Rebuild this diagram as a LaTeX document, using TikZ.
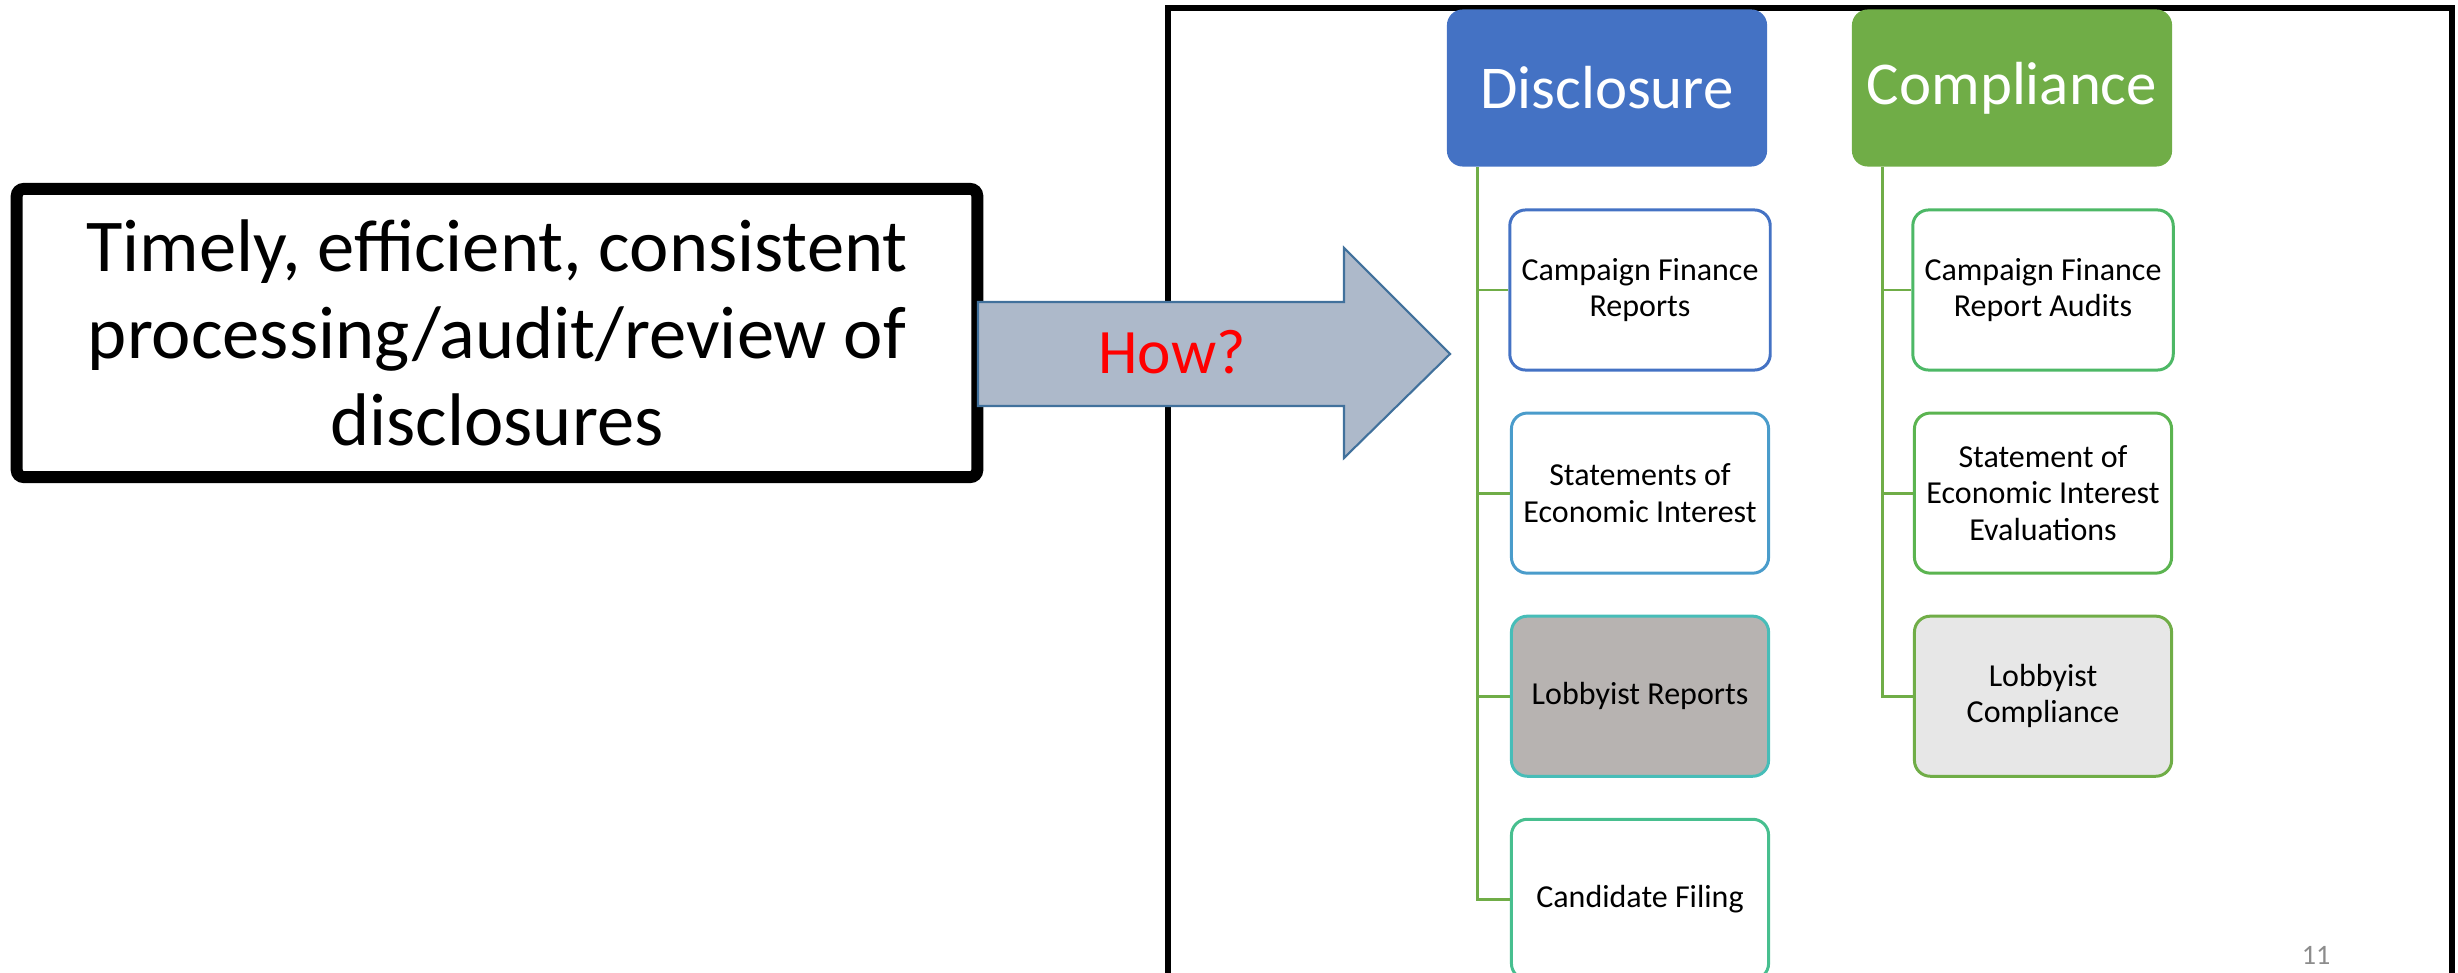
\documentclass[tikz,border=0pt]{standalone}
\usepackage{fontspec}
\setmainfont{Carlito}
\usetikzlibrary{positioning,calc}
\definecolor{discblue}{HTML}{4472C4}
\definecolor{compgreen}{HTML}{70AD47}
\definecolor{arrowfill}{HTML}{ADB9CA}
\definecolor{arrowline}{HTML}{41719C}
\definecolor{dA}{HTML}{4472C4}
\definecolor{dB}{HTML}{4A9CCB}
\definecolor{dC}{HTML}{47BDB8}
\definecolor{dD}{HTML}{47BF8F}
\definecolor{cA}{HTML}{4DB866}
\definecolor{cB}{HTML}{5BB450}
\definecolor{cC}{HTML}{70AD47}
\definecolor{greyfill}{HTML}{B7B3B1}
\definecolor{lightfill}{HTML}{E7E7E7}
\tikzset{
    goal/.style =   {rectangle,
                    rounded corners=2pt,
                    fill=white,
                    draw=black,
                    text=black,
                    line width=3.4pt,
                    align=center,
                    minimum width=9.6cm,
                    minimum height=2.88cm,
                    font=\fontsize{21.2}{24.8}\selectfont},
    head/.style =   {rectangle,
                    rounded corners=4.5pt,
                    draw=none,
                    text=white,
                    minimum width=3.2cm,
                    minimum height=1.57cm,
                    font=\fontsize{17.3}{20}\selectfont},
    item/.style =   {rectangle,
                    rounded corners=4.5pt,
                    fill=white,
                    text=black,
                    line width=0.85pt,
                    align=center,
                    minimum width=2.57cm,
                    minimum height=1.6cm,
                    font=\fontsize{9.1}{10.3}\selectfont},
    -,
    frame/.style =  {draw=black,
                    line width=1.7pt},
    howarrow/.style = {fill=arrowfill,
                    draw=arrowline,
                    line width=0.6pt},
    howtext/.style = {text=red,
                    font=\fontsize{18}{20}\selectfont},
    link/.style =   {draw=compgreen,
                    line width=0.85pt},
    elbow/.style =  {to path={|- (\tikztotarget)}},
    pageno/.style = {text=black!45,
                    inner sep=0pt,
                    font=\fontsize{8}{9}\selectfont}}

\begin{document}
\begin{tikzpicture}[x=0.01cm,y=-0.01cm,node distance=0.4cm]
        \useasboundingbox (0,0) rectangle (2458,973);
                \draw[frame] (1168,8) rectangle (2452,1100);
                \node[goal]             (goal) at (497,333)     {Timely, efficient, consistent\\processing/audit/review of\\disclosures};
                \draw[howarrow] (978,302) -- (1344,302) -- (1344,248) -- (1450,354)
                                -- (1344,458) -- (1344,406) -- (978,406) -- cycle;
                \node[howtext]          (how) at (1172,352)     {How?};
                % Disclosure column
                \node[head,fill=discblue]   (disc) at (1607,88)     {Disclosure};
                \node[item,draw=dA]     (d1) at (1640,290)      {Campaign Finance\\Reports};
                \node[item,draw=dB]     (d2) [below=of d1]      {Statements of\\Economic Interest};
                \node[item,draw=dC,fill=greyfill] (d3) [below=of d2] {Lobbyist Reports};
                \node[item,draw=dD]     (d4) [below=of d3]      {Candidate Filing};
                % Compliance column
                \node[head,fill=compgreen]  (comp) at (2012,88)     {Compliance};
                \node[item,draw=cA]     (c1) at (2043,290)      {Campaign Finance\\Report Audits};
                \node[item,draw=cB]     (c2) [below=of c1]      {Statement of\\Economic Interest\\Evaluations};
                \node[item,draw=cC,fill=lightfill] (c3) [below=of c2] {Lobbyist\\Compliance};
                \coordinate (dtop) at ([xshift=0.31cm]disc.south west);
                \coordinate (ctop) at ([xshift=0.31cm]comp.south west);
                \path [link]    (dtop) edge [elbow] (d1)
                                (dtop) edge [elbow] (d2)
                                (dtop) edge [elbow] (d3)
                                (dtop) edge [elbow] (d4)
                                (ctop) edge [elbow] (c1)
                                (ctop) edge [elbow] (c2)
                                (ctop) edge [elbow] (c3);
                \node[pageno,anchor=north]  (page) at (2316,946)    {11};
        \end{tikzpicture}
\end{document}
